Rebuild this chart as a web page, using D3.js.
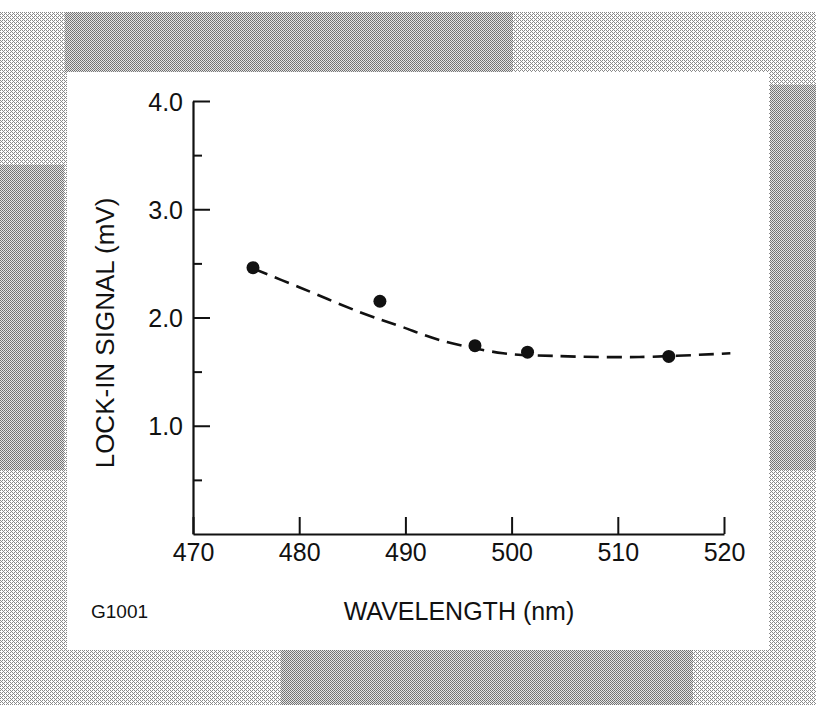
<!DOCTYPE html>
<html>
<head>
<meta charset="utf-8">
<script src="https://cdn.jsdelivr.net/npm/d3@7"></script>
<style>
  html, body { margin: 0; padding: 0; background: #fff; }
  svg { display: block; }
  text { font-family: "Liberation Sans", Arial, Helvetica, sans-serif; fill: #111; }
</style>
</head>
<body>
<svg id="chart" width="816" height="705"></svg>
<script>
// Measured lock-in signal at each wavelength
const wavelengths = [475.65, 487.6, 496.55, 501.5, 514.8];
const signals     = [2.46, 2.15, 1.74, 1.68, 1.64];

// Smooth trend curve (dashed)
const fitWavelengths = [475.7, 480, 485.7, 489.5, 493.3, 499.2, 503.9, 512, 520.6];
const fitSignals     = [2.45, 2.28, 2.05, 1.92, 1.79, 1.67, 1.645, 1.635, 1.67];

// Axis ticks
const xTicks = [470, 480, 490, 500, 510, 520];
const yMajorTicks = [1.0, 2.0, 3.0, 4.0];
const yMinorTicks = [0.5, 1.5, 2.5, 3.5];

const svg = d3.select("#chart");

// ---- textured mat behind the white card ----
const defs = svg.append("defs");
const light = defs.append("pattern").attr("id", "lightTex")
  .attr("width", 4).attr("height", 4).attr("patternUnits", "userSpaceOnUse");
light.append("rect").attr("width", 4).attr("height", 4).attr("fill", "#fff");
[[0,0],[1,1],[2,2],[3,3],[2,0],[0,2]].forEach(([px,py]) =>
  light.append("rect").attr("x", px).attr("y", py).attr("width", 1).attr("height", 1).attr("fill", "#8a8a8a"));

const dark = defs.append("pattern").attr("id", "darkTex")
  .attr("width", 2).attr("height", 2).attr("patternUnits", "userSpaceOnUse");
dark.append("rect").attr("width", 2).attr("height", 2).attr("fill", "#e4e4e4");
dark.append("rect").attr("x", 0).attr("y", 0).attr("width", 1).attr("height", 1).attr("fill", "#6e6e6e");
dark.append("rect").attr("x", 1).attr("y", 1).attr("width", 1).attr("height", 1).attr("fill", "#7a7a7a");

svg.append("rect").attr("x", 0).attr("y", 12).attr("width", 816).attr("height", 693).attr("fill", "url(#lightTex)");
[[65, 12, 448, 60], [0, 165, 64, 305], [770, 85, 46, 385], [281, 650, 412, 55]].forEach(([x, y, w, h]) =>
  svg.append("rect").attr("x", x).attr("y", y).attr("width", w).attr("height", h).attr("fill", "url(#darkTex)"));

// white card
svg.append("rect").attr("x", 67).attr("y", 72).attr("width", 702).attr("height", 578).attr("fill", "#fff");

// ---- scales ----
const x = d3.scaleLinear().domain([470, 520]).range([193, 724]);
const y = d3.scaleLinear().domain([0, 4]).range([534, 101]);

const g = svg.append("g");

// x axis: ticks point upward into the plot
const xAxis = d3.axisBottom(x).tickValues(xTicks).tickSizeInner(-17).tickSizeOuter(0).tickPadding(0)
  .tickFormat(d3.format("d"));
const gx = g.append("g").attr("transform", `translate(0,534)`).call(xAxis);
gx.select(".domain").attr("stroke", "#111").attr("stroke-width", 2.2);
gx.selectAll(".tick line").attr("stroke", "#111").attr("stroke-width", 2);
gx.selectAll(".tick text").attr("font-size", 25).attr("dy", "0").attr("y", 27)
  .attr("font-family", "Liberation Sans, Arial, sans-serif").attr("fill", "#111");

// y axis: major and minor ticks point right into the plot
const yAxis = d3.axisLeft(y).tickValues(yMajorTicks).tickSizeInner(-17).tickSizeOuter(0).tickPadding(27)
  .tickFormat(d3.format(".1f"));
const gy = g.append("g").attr("transform", `translate(193,0)`).call(yAxis);
gy.select(".domain").attr("stroke", "#111").attr("stroke-width", 2.2);
gy.selectAll(".tick line").attr("stroke", "#111").attr("stroke-width", 2);
gy.selectAll(".tick text").attr("font-size", 25).attr("x", -10).attr("dy", "0.36em")
  .attr("font-family", "Liberation Sans, Arial, sans-serif").attr("fill", "#111");

const yMinor = d3.axisLeft(y).tickValues(yMinorTicks).tickSize(-9).tickFormat("");
const gym = g.append("g").attr("transform", `translate(193,0)`).call(yMinor);
gym.select(".domain").remove();
gym.selectAll(".tick line").attr("stroke", "#111").attr("stroke-width", 2);

// dashed trend curve
const fit = fitWavelengths.map((w, i) => [w, fitSignals[i]]);
g.append("path")
  .datum(fit)
  .attr("fill", "none")
  .attr("stroke", "#111")
  .attr("stroke-width", 2.6)
  .attr("stroke-dasharray", "15,8")
  .attr("d", d3.line().x(d => x(d[0])).y(d => y(d[1])).curve(d3.curveCatmullRom.alpha(0.5)));

// measured points
g.selectAll("circle.pt")
  .data(wavelengths.map((w, i) => [w, signals[i]]))
  .join("circle")
  .attr("class", "pt")
  .attr("cx", d => x(d[0]))
  .attr("cy", d => y(d[1]))
  .attr("r", 6.5)
  .attr("fill", "#111");

// axis titles and figure code
svg.append("text")
  .attr("transform", `translate(114,333) rotate(-90)`)
  .attr("text-anchor", "middle")
  .attr("font-size", 26)
  .text("LOCK-IN SIGNAL (mV)");

svg.append("text")
  .attr("x", 459).attr("y", 620)
  .attr("text-anchor", "middle")
  .attr("font-size", 25)
  .text("WAVELENGTH (nm)");

svg.append("text")
  .attr("x", 91).attr("y", 618)
  .attr("font-size", 19)
  .text("G1001");
</script>
</body>
</html>
